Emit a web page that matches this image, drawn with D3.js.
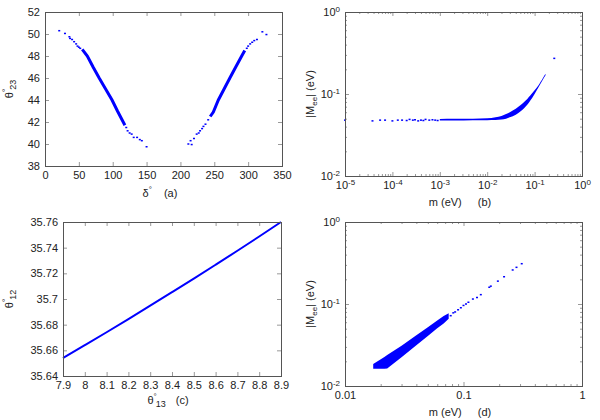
<!DOCTYPE html>
<html>
<head>
<meta charset="utf-8">
<script src="https://cdn.jsdelivr.net/npm/d3@7"></script>
<style>
  body { margin: 0; background: #fff; }
  text { font-family: "Liberation Sans", Arial, sans-serif; fill: #222; }
</style>
</head>
<body>
<script>
// ---- data ----
// (a) theta23 vs delta : dense ribbons (centre line) + loose points
const aLeftBandDelta = [55, 62.5, 71, 80, 89.5, 99, 107, 115.5, 118];
const aLeftBandTheta = [48.6, 48, 47, 46, 45, 44, 43, 42, 41.7];
const aRightBandDelta = [244, 248.6, 256, 264.5, 273, 281.7, 290.5, 295];
const aRightBandTheta = [42.5, 42.9, 44, 45, 46, 47, 48, 48.5];
const aDotsDelta = [21, 29.5, 36, 37, 40, 43, 46, 48, 50, 52, 120, 122, 125, 128, 131, 136, 140, 143, 150,
  211.7, 215, 216.6, 220, 224, 227, 229, 232, 234, 237, 241, 298, 300, 303, 306, 309, 313, 321, 327];
const aDotsTheta = [50.3, 50.05, 49.75, 49.6, 49.5, 49.3, 49.1, 48.9, 48.8, 48.7, 41.5, 41.2, 41, 40.9, 40.6, 40.6, 40.4, 40.3, 39.75,
  40.0, 40.3, 39.95, 40.5, 40.9, 41, 41.2, 41.4, 41.6, 41.8, 42.2, 48.7, 48.9, 49.1, 49.25, 49.4, 49.5, 50.2, 49.95];

// (b) |Mee| vs m (log-log)
const bBandM  = [1e-3, 2e-3, 5e-3, 0.01, 0.015, 0.02, 0.025, 0.03, 0.04, 0.05, 0.06, 0.07, 0.08, 0.1, 0.12, 0.15, 0.17];
const bBandLo = [0.0475, 0.0475, 0.0478, 0.048, 0.0482, 0.049, 0.05, 0.052, 0.056, 0.061, 0.067, 0.074, 0.082, 0.1, 0.12, 0.15, 0.169];
const bBandHi = [0.0495, 0.0498, 0.05, 0.0505, 0.052, 0.054, 0.057, 0.06, 0.066, 0.073, 0.08, 0.087, 0.095, 0.111, 0.127, 0.157, 0.176];
const bDotsM = [1e-5, 3.8e-5, 5.5e-5, 7e-5, 1e-4, 1.3e-4, 1.6e-4, 2e-4, 2.3e-4, 2.7e-4, 3e-4, 3.5e-4, 4e-4, 4.5e-4, 5e-4, 6e-4, 7e-4, 8e-4, 9e-4, 0.26];
const bDotsMee = [0.048, 0.047, 0.048, 0.048, 0.047, 0.048, 0.048, 0.0475, 0.049, 0.048, 0.0485, 0.047, 0.048, 0.0475, 0.049, 0.048, 0.0485, 0.048, 0.0475, 0.272];

// (c) theta12 vs theta13
const cTheta13 = [7.9, 8.0, 8.1, 8.2, 8.3, 8.4, 8.5, 8.6, 8.7, 8.8, 8.9];
const cTheta12 = [35.654, 35.664, 35.6741, 35.6844, 35.6948, 35.7053, 35.7159, 35.7267, 35.7376, 35.7487, 35.76];

// (d) |Mee| vs m (log-log)
const dBandM  = [0.0173, 0.0215, 0.0227, 0.03, 0.04, 0.05, 0.06, 0.068, 0.075];
const dBandLo = [0.0162, 0.0162, 0.0163, 0.0224, 0.0314, 0.0408, 0.0505, 0.058, 0.066];
const dBandHi = [0.0186, 0.0225, 0.0238, 0.031, 0.0415, 0.052, 0.0628, 0.0714, 0.077];
const dDotsM = [0.078, 0.082, 0.085, 0.09, 0.095, 0.1, 0.105, 0.11, 0.12, 0.13, 0.14, 0.165, 0.17, 0.195, 0.22, 0.26, 0.28, 0.31];
const dDotsMee = [0.072, 0.078, 0.08, 0.085, 0.09, 0.096, 0.1, 0.105, 0.115, 0.12, 0.13, 0.16, 0.165, 0.19, 0.215, 0.26, 0.28, 0.31];

// tick values
const aXTicks = [0, 50, 100, 150, 200, 250, 300, 350];
const aYTicks = [38, 40, 42, 44, 46, 48, 50, 52];
const bXTicks = [1e-5, 1e-4, 1e-3, 1e-2, 1e-1, 1];
const bYTicks = [1e-2, 1e-1, 1];
const cXTicks = [7.9, 8, 8.1, 8.2, 8.3, 8.4, 8.5, 8.6, 8.7, 8.8, 8.9];
const cYTicks = [35.64, 35.66, 35.68, 35.7, 35.72, 35.74, 35.76];
const dXTicks = [0.01, 0.1, 1];
const dYTicks = [1e-2, 1e-1, 1];

const blue = "#0000ff";
const svg = d3.select("body").append("svg").attr("width", 600).attr("height", 420);

// minor ticks for log axes: 2..9 in every decade
function logMinors(lo, hi) {
  let out = [];
  for (let e = Math.round(Math.log10(lo)); e < Math.round(Math.log10(hi)); e++)
    for (let k = 2; k <= 9; k++) out.push(k * Math.pow(10, e));
  return out;
}

// frame + inward ticks on all four sides
function drawAxes(g, x, y, o) {
  let [x0, x1] = x.range(), [y1, y0] = y.range();
  [[d3.axisBottom, y1, true], [d3.axisTop, y0, false]].forEach(([mk, pos, lab]) => {
    let a = mk(x).tickValues(o.xt).tickSize(-4).tickPadding(5);
    if (!lab) a.tickFormat("");
    else if (o.xf) a.tickFormat(o.xf);
    let gg = g.append("g").attr("transform", "translate(0," + pos + ")").call(a);
    gg.select(".domain").remove();
    if (lab && o.xsup) supify(gg);
    if (o.xm) {
      g.append("g").attr("transform", "translate(0," + pos + ")")
        .call(mk(x).tickValues(o.xm).tickSize(-2).tickFormat(""))
        .select(".domain").remove();
    }
  });
  [[d3.axisLeft, x0, true], [d3.axisRight, x1, false]].forEach(([mk, pos, lab]) => {
    let a = mk(y).tickValues(o.yt).tickSize(-4).tickPadding(5);
    if (!lab) a.tickFormat("");
    else if (o.yf) a.tickFormat(o.yf);
    let gg = g.append("g").attr("transform", "translate(" + pos + ",0)").call(a);
    gg.select(".domain").remove();
    if (lab && o.ysup) supify(gg);
    if (o.ym) {
      g.append("g").attr("transform", "translate(" + pos + ",0)")
        .call(mk(y).tickValues(o.ym).tickSize(-2).tickFormat(""))
        .select(".domain").remove();
    }
  });
  g.selectAll(".tick line").attr("stroke", "#999");
  g.selectAll(".tick text").attr("font-size", 11).attr("fill", "#222")
    .attr("font-family", "Liberation Sans, Arial, sans-serif");
  g.append("rect").attr("x", x0 + 0.5).attr("y", y0 + 0.5)
    .attr("width", x1 - x0).attr("height", y1 - y0)
    .attr("fill", "none").attr("stroke", "#555");
}

// turn 1e-5 style labels into 10 with a superscript
function supify(gg) {
  gg.selectAll(".tick text").each(function (d) {
    let t = d3.select(this);
    t.text("10");
    t.append("tspan").attr("dy", "-0.5em").attr("font-size", 8).text(Math.round(Math.log10(d)));
  });
}

function thetaLabel(t, sub) {
  t.append("tspan").text("θ");
  t.append("tspan").attr("dy", -5).attr("font-size", 8).text("°");
  t.append("tspan").attr("dx", -1).attr("dy", 8).attr("font-size", 9).text(sub);
}
function meeLabel(t) {
  t.append("tspan").text("|M");
  t.append("tspan").attr("dy", 3).attr("font-size", 8).text("ee");
  t.append("tspan").attr("dy", -3).text("| (eV)");
}

function dots(g, x, y, xs, ys) {
  g.selectAll(null).data(xs).enter().append("rect")
    .attr("x", d => x(d) - 1).attr("y", (d, i) => y(ys[i]) - 0.75)
    .attr("width", 2).attr("height", 1.5).attr("fill", blue);
}

// ---------- panel (a) ----------
{
  let g = svg.append("g");
  let x = d3.scaleLinear().domain([0, 350]).range([45, 282]);
  let y = d3.scaleLinear().domain([38, 52]).range([166, 12]);
  let line = d3.line().x(d => x(d[0])).y(d => y(d[1]));
  [[aLeftBandDelta, aLeftBandTheta], [aRightBandDelta, aRightBandTheta]].forEach(([xs, ys]) => {
    g.append("path").datum(xs.map((d, i) => [d, ys[i]])).attr("d", line)
      .attr("fill", "none").attr("stroke", blue).attr("stroke-width", 3);
  });
  dots(g, x, y, aDotsDelta, aDotsTheta);
  drawAxes(g, x, y, { xt: aXTicks, yt: aYTicks });
  let xl = g.append("text").attr("x", 160).attr("y", 197).attr("text-anchor", "middle").attr("font-size", 11);
  xl.append("tspan").text("δ");
  xl.append("tspan").attr("dy", -5).attr("font-size", 8).text("°");
  xl.append("tspan").attr("dx", 12).attr("dy", 5).text("(a)");
  let yl = g.append("text").attr("transform", "translate(13,89) rotate(-90)").attr("text-anchor", "middle").attr("font-size", 11);
  thetaLabel(yl, "23");
}

// ---------- panel (b) ----------
{
  let g = svg.append("g");
  let x = d3.scaleLog().domain([1e-5, 1]).range([345, 582]);
  let y = d3.scaleLog().domain([1e-2, 1]).range([176, 12]);
  let area = d3.area().x(d => x(d[0])).y0(d => y(d[1])).y1(d => y(d[2])).curve(d3.curveMonotoneX);
  g.append("path").datum(bBandM.map((m, i) => [m, bBandLo[i], bBandHi[i]]))
    .attr("d", area).attr("fill", blue);
  dots(g, x, y, bDotsM, bDotsMee);
  drawAxes(g, x, y, { xt: bXTicks, yt: bYTicks, xsup: true, ysup: true,
    xm: logMinors(1e-5, 1), ym: logMinors(1e-2, 1) });
  let xl = g.append("text").attr("x", 460).attr("y", 206).attr("text-anchor", "middle").attr("font-size", 11);
  xl.append("tspan").text("m (eV)");
  xl.append("tspan").attr("dx", 16).text("(b)");
  let yl = g.append("text").attr("transform", "translate(314,94) rotate(-90)").attr("text-anchor", "middle").attr("font-size", 11);
  meeLabel(yl);
}

// ---------- panel (c) ----------
{
  let g = svg.append("g");
  let x = d3.scaleLinear().domain([7.9, 8.9]).range([63, 281]);
  let y = d3.scaleLinear().domain([35.64, 35.76]).range([376, 222]);
  let line = d3.line().x(d => x(d[0])).y(d => y(d[1])).curve(d3.curveMonotoneX);
  g.append("path").datum(cTheta13.map((d, i) => [d, cTheta12[i]])).attr("d", line)
    .attr("fill", "none").attr("stroke", blue).attr("stroke-width", 2);
  drawAxes(g, x, y, { xt: cXTicks, yt: cYTicks, xf: d3.format("~g"), yf: d3.format("~g") });
  let xl = g.append("text").attr("x", 168).attr("y", 404).attr("text-anchor", "middle").attr("font-size", 11);
  thetaLabel(xl, "13");
  xl.append("tspan").attr("dx", 10).attr("dy", -3).text("(c)");
  let yl = g.append("text").attr("transform", "translate(13,299) rotate(-90)").attr("text-anchor", "middle").attr("font-size", 11);
  thetaLabel(yl, "12");
}

// ---------- panel (d) ----------
{
  let g = svg.append("g");
  let x = d3.scaleLog().domain([0.01, 1]).range([345, 582]);
  let y = d3.scaleLog().domain([1e-2, 1]).range([386, 222]);
  let area = d3.area().x(d => x(d[0])).y0(d => y(d[1])).y1(d => y(d[2]));
  g.append("path").datum(dBandM.map((m, i) => [m, dBandLo[i], dBandHi[i]]))
    .attr("d", area).attr("fill", blue);
  dots(g, x, y, dDotsM, dDotsMee);
  drawAxes(g, x, y, { xt: dXTicks, yt: dYTicks, ysup: true, xf: d3.format("~g"),
    xm: logMinors(0.01, 1), ym: logMinors(1e-2, 1) });
  let xl = g.append("text").attr("x", 460).attr("y", 416).attr("text-anchor", "middle").attr("font-size", 11);
  xl.append("tspan").text("m (eV)");
  xl.append("tspan").attr("dx", 16).text("(d)");
  let yl = g.append("text").attr("transform", "translate(314,304) rotate(-90)").attr("text-anchor", "middle").attr("font-size", 11);
  meeLabel(yl);
}
</script>
</body>
</html>
